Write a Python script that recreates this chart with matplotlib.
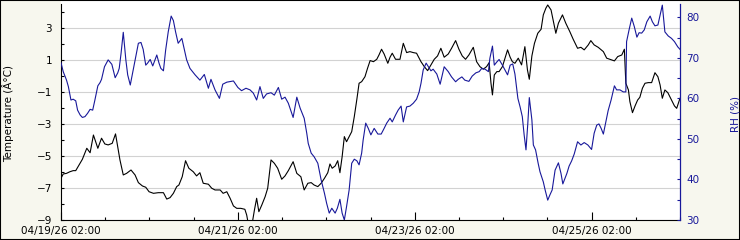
import numpy as np
import pandas as pd
import matplotlib
matplotlib.use("Agg")
import matplotlib.pyplot as plt
import matplotlib.dates as mdates
from matplotlib.ticker import FixedLocator
from matplotlib.patches import Rectangle

START = pd.Timestamp("2026-04-19 02:00")

# temperature (deg C), hours after start
temp_hours = [
    0, 0.6, 1.5, 2.4, 3.3, 4.0, 4.9, 5.8, 7.0, 7.9, 8.8, 10.0, 11.0, 11.9, 12.8,
    13.9, 14.8, 16.0, 16.9, 17.8, 19.0, 20.1, 21.0, 22.1, 23.0, 23.9, 25.1, 26.4,
    27.8, 28.7, 29.6, 30.5, 31.4, 32.0, 32.9, 33.8, 34.7, 35.9, 36.8, 37.7, 38.6,
    40.0, 40.9, 41.8, 43.2, 44.0, 45.0, 45.9, 46.8, 47.7, 48.8, 49.9, 50.4, 50.8,
    51.9, 52.5, 53.1, 53.7, 54.5, 55.4, 56.1, 57.0, 57.9, 58.8, 59.9, 60.8, 61.7,
    63.0, 64.0, 65.1, 66.0, 67.0, 67.9, 68.7, 69.7, 70.6, 71.5, 72.4, 73.0, 73.6,
    74.4, 75.1, 75.7, 76.3, 76.9, 77.5, 78.2, 78.9, 79.6, 80.3, 80.9, 81.6, 82.5,
    83.2, 83.9, 84.8, 85.7, 86.3, 87.0, 87.7, 88.7, 89.3, 89.9, 90.8, 92.0, 92.9,
    93.8, 94.7, 95.6, 96.5, 97.7, 98.6, 99.5, 100.4, 101.3, 102.2, 103.1, 104.0,
    105.1, 106.0, 107.1, 108.0, 108.9, 109.8, 110.7, 111.9, 112.8, 113.7, 114.6,
    115.5, 116.2, 116.7, 117.1, 117.6, 118.3, 118.9, 119.8, 120.5, 121.2, 121.9,
    122.5, 123.2, 124.1, 125.0, 125.9, 126.6, 127.1, 127.8, 128.5, 129.4, 130.3,
    130.9, 131.6, 132.1, 133.0, 134.3, 135.0, 136.1, 137.0, 138.1, 139.0, 140.2,
    141.1, 142.0, 143.1, 143.8, 144.7, 145.8, 147.2, 148.1, 149.0, 150.2, 151.1,
    152.2, 152.9, 153.3, 154.0, 154.4, 155.1, 155.8, 156.5, 157.1, 157.8, 158.5,
    159.4, 160.3, 161.2, 162.0, 162.6, 163.2, 163.9, 164.7, 165.6, 166.5, 167.1,
    167.7, 168.0,
]
temp_vals = [
    -6.39, -6.12, -6.08, -5.98, -5.91, -5.91, -5.56, -5.20, -4.51, -4.79, -3.68,
    -4.51, -3.88, -4.24, -4.30, -4.20, -3.61, -5.24, -6.18, -6.08, -5.87, -6.18,
    -6.66, -6.87, -6.95, -7.23, -7.33, -7.29, -7.29, -7.69, -7.60, -7.33, -6.91,
    -6.81, -6.29, -5.29, -5.76, -5.98, -6.24, -6.04, -6.70, -6.76, -7.01, -7.12,
    -7.12, -7.33, -7.23, -7.64, -8.12, -8.27, -8.27, -8.33, -8.69, -9.2, -9.2,
    -8.37, -7.64, -8.48, -8.06, -7.54, -7.01, -5.24, -5.45, -5.76, -6.45, -6.24,
    -5.91, -5.35, -6.08, -6.29, -7.12, -6.70, -6.66, -6.81, -6.91, -6.70, -6.39,
    -6.04, -5.49, -5.76, -5.62, -5.29, -6.04, -5.04, -3.78, -4.10, -3.78, -3.47,
    -2.53, -1.44, -0.44, -0.34, -0.03, 0.50, 0.98, 0.91, 1.06, 1.33, 1.69, 1.39,
    0.81, 1.19, 1.44, 1.06, 1.06, 2.06, 1.48, 1.54, 1.48, 1.44, 0.91, 0.60, 0.35,
    0.71, 1.06, 1.27, 1.75, 1.19, 1.39, 1.75, 2.23, 1.69, 1.27, 1.06, 1.33, 1.81,
    0.91, 0.60, 0.44, 0.60, 0.85, -0.44, -1.17, 0.08, 0.29, 0.29, 0.60, 1.13, 1.65,
    1.19, 0.91, 0.81, 1.13, 0.71, 1.85, 0.39, -0.19, 1.27, 2.06, 2.69, 2.94, 3.84,
    4.26, 4.46, 4.15, 2.69, 3.32, 3.84, 3.32, 2.79, 2.32, 1.75, 1.81, 1.65, 1.96,
    2.23, 1.96, 1.81, 1.54, 1.13, 1.06, 0.96, 1.23, 1.33, 1.69, -0.44, -0.86,
    -1.59, -2.28, -1.86, -1.49, -1.32, -0.75, -0.44, -0.40, -0.40, 0.22, -0.03,
    -0.55, -1.38, -0.86, -1.03, -1.44, -1.86, -2.01, -1.59, -1.38,
]

# relative humidity (%), hours after start
rh_hours = [
    0, 0.6, 1.5, 2.0, 2.7, 3.3, 4.0, 4.5, 5.2, 5.8, 6.5, 7.2, 7.9, 8.6, 9.2, 10.0,
    10.6, 11.0, 11.8, 12.4, 12.8, 13.8, 14.7, 15.4, 15.8, 16.3, 16.9, 17.6, 18.1,
    18.8, 19.6, 20.4, 21.0, 21.7, 22.3, 23.0, 23.5, 24.2, 24.9, 25.5, 26.0, 26.6,
    27.1, 27.8, 28.4, 29.1, 29.9, 30.5, 31.1, 31.8, 32.8, 33.5, 34.1, 35.0, 36.4,
    37.7, 38.9, 40.0, 40.7, 41.8, 43.0, 43.9, 45.0, 46.8, 48.0, 49.0, 50.2, 51.3,
    52.2, 53.1, 54.0, 54.9, 55.8, 57.0, 57.9, 59.0, 59.9, 60.8, 61.7, 63.0, 64.0,
    64.9, 66.0, 66.7, 67.1, 67.9, 68.7, 69.7, 70.6, 71.5, 72.1, 72.8, 73.5, 74.4,
    75.0, 75.7, 76.3, 76.9, 77.5, 78.2, 78.9, 79.6, 80.3, 80.9, 81.6, 82.0, 82.7,
    83.4, 84.1, 85.0, 86.0, 86.9, 87.7, 88.4, 89.3, 89.9, 90.8, 91.5, 92.3, 92.9,
    93.8, 94.7, 95.6, 96.5, 97.2, 97.7, 98.3, 99.1, 99.7, 100.4, 101.0, 102.0,
    102.9, 104.0, 105.1, 106.0, 107.1, 107.8, 108.8, 109.6, 110.7, 111.6, 112.6,
    113.5, 114.2, 115.1, 116.0, 116.4, 117.1, 117.6, 118.3, 118.9, 119.8, 120.5,
    121.2, 121.9, 122.6, 123.2, 124.0, 124.6, 125.2, 125.7, 126.2, 126.7, 127.1,
    127.8, 128.2, 128.8, 129.5, 130.0, 130.9, 131.4, 132.1, 132.7, 133.3, 134.1,
    135.0, 135.7, 136.2, 137.3, 137.9, 138.6, 139.3, 140.2, 141.1, 142.0, 143.0,
    144.0, 144.7, 145.4, 146.0, 146.6, 147.2, 147.8, 148.5, 149.3, 150.2, 150.8,
    151.7, 152.6, 153.3, 153.5, 154.2, 154.9, 155.6, 156.3, 156.9, 157.6, 158.3,
    159.0, 159.9, 160.5, 161.2, 162.0, 162.6, 163.2, 163.9, 164.8, 165.7, 166.5,
    167.4, 168.0,
]
rh_vals = [
    68.8, 66.6, 64.5, 62.9, 59.6, 59.8, 59.4, 57.1, 55.9, 55.3, 55.5, 56.3, 57.3,
    57.1, 59.6, 63.1, 63.9, 64.7, 67.8, 68.8, 69.5, 68.4, 65.1, 66.3, 67.4, 71.1,
    76.3, 69.5, 65.8, 63.3, 67.0, 70.7, 73.6, 73.8, 72.1, 68.2, 68.7, 69.6, 68.0,
    69.5, 70.7, 68.7, 67.4, 66.8, 71.9, 76.4, 80.3, 79.2, 76.4, 73.6, 74.8, 71.9,
    69.5, 67.4, 65.8, 64.5, 65.9, 62.5, 64.7, 62.1, 60.0, 63.5, 64.0, 64.3, 62.7,
    61.9, 62.5, 62.1, 61.3, 59.6, 62.9, 60.0, 61.1, 61.4, 60.8, 62.7, 59.8, 60.3,
    58.8, 55.3, 60.3, 57.6, 55.1, 51.4, 48.9, 46.5, 45.6, 44.0, 39.9, 36.6, 34.1,
    31.7, 32.9, 31.7, 32.9, 35.1, 31.7, 30.0, 33.3, 37.4, 44.0, 45.0, 44.6, 43.6,
    46.5, 49.7, 53.9, 52.6, 51.0, 52.6, 51.2, 51.2, 52.6, 53.9, 55.1, 54.2, 55.9,
    57.1, 58.1, 54.2, 57.9, 58.1, 58.8, 59.8, 61.6, 63.7, 67.0, 68.7, 67.8, 66.8,
    67.2, 66.0, 63.5, 67.8, 66.6, 65.3, 64.1, 64.7, 65.3, 64.5, 64.2, 65.5, 66.3,
    66.6, 67.4, 67.2, 66.6, 69.9, 72.9, 68.2, 69.0, 69.6, 68.2, 67.0, 65.8, 68.2,
    68.5, 66.0, 60.0, 57.9, 55.5, 51.0, 47.3, 53.9, 60.2, 54.7, 48.5, 47.3, 44.0,
    41.9, 39.4, 37.4, 34.9, 36.2, 37.4, 42.3, 44.1, 41.5, 38.9, 41.5, 43.3, 44.6,
    46.3, 49.3, 48.5, 49.1, 48.5, 47.4, 51.4, 53.4, 53.7, 52.6, 51.2, 53.9, 57.0,
    59.6, 63.1, 62.1, 62.1, 61.6, 61.6, 74.0, 77.0, 79.8, 77.7, 75.1, 76.2, 76.1,
    76.9, 78.9, 80.3, 78.9, 77.9, 78.1, 80.6, 83.0, 76.4, 75.4, 74.8, 74.0, 72.7,
    72.1,
]

temp_ticks = [-9, -7, -5, -3, -1, 1, 3]
rh_ticks = [30, 40, 50, 60, 70, 80]

BLUE = "#18189a"
BG = "#f7f7ee"

temp_t = START + pd.to_timedelta(temp_hours, unit="h")
rh_t = START + pd.to_timedelta(rh_hours, unit="h")

plt.rcParams["font.family"] = "DejaVu Sans"
plt.rcParams["font.size"] = 7.5

fig = plt.figure(figsize=(7.4, 2.4), dpi=100, facecolor=BG)
ax = fig.add_axes([61 / 740, 20 / 240, 619 / 740, 215.5 / 240])
ax2 = ax.twinx()

# white strip above the axes, the plot area runs up to the border
fig.add_artist(Rectangle((61 / 740, 235.5 / 240), 619 / 740, 4.5 / 240,
                         transform=fig.transFigure, facecolor="white",
                         edgecolor="none", zorder=0))

ax.plot(temp_t, temp_vals, color="black", linewidth=0.8)
ax2.plot(rh_t, rh_vals, color=BLUE, linewidth=0.8)

ax.set_xlim(START, START + pd.Timedelta(hours=168))
ax.set_ylim(-9, 4.49)
ax2.set_ylim(30, 83.16)

major_days = pd.date_range(START, periods=4, freq="48h")
minor_days = pd.date_range(START, periods=15, freq="12h")
ax.xaxis.set_major_locator(FixedLocator(mdates.date2num(major_days)))
ax.xaxis.set_minor_locator(FixedLocator(mdates.date2num(minor_days)))
ax.xaxis.set_major_formatter(mdates.DateFormatter("%m/%d/%y %H:%M"))

ax.yaxis.set_major_locator(FixedLocator(temp_ticks))
ax.yaxis.set_minor_locator(FixedLocator(np.arange(-8, 5, 2)))
ax2.yaxis.set_major_locator(FixedLocator(rh_ticks))
ax2.yaxis.set_minor_locator(FixedLocator([35, 45, 55, 65, 75]))

ax.grid(axis="y", which="major", color="#d2d2d2", linewidth=0.8)
ax.set_axisbelow(True)

ax.tick_params(axis="x", which="major", direction="in", length=6, width=0.8,
               pad=4.5, labelsize=7.5)
ax.tick_params(axis="x", which="minor", direction="in", length=2.2, width=0.8)
ax.tick_params(axis="y", which="both", direction="in", length=2.2, width=0.8,
               pad=6.5, labelsize=7.5)
ax2.tick_params(axis="y", which="both", direction="in", length=2.2, width=0.8,
                pad=4.5, labelsize=7.5, colors=BLUE)

for s in ["top", "right"]:
    ax.spines[s].set_visible(False)
for s in ["top", "left", "bottom"]:
    ax2.spines[s].set_visible(False)
ax.spines["left"].set_linewidth(0.8)
ax.spines["bottom"].set_linewidth(0.8)
ax2.spines["right"].set_color(BLUE)
ax2.spines["right"].set_linewidth(0.9)

fig.text(8 / 740, 0.525, "Temperature (Â°C)", rotation=90, ha="center",
         va="center", fontsize=7.5)
fig.text(735 / 740, 0.523, "RH (%)", rotation=90, ha="center", va="center",
         fontsize=7.5, color=BLUE)

# black frame round the whole image
fig.add_artist(Rectangle((0, 0), 1, 1, transform=fig.transFigure, fill=False,
                         edgecolor="black", linewidth=1.5))

fig.savefig("out.png", dpi=100, facecolor=BG)
